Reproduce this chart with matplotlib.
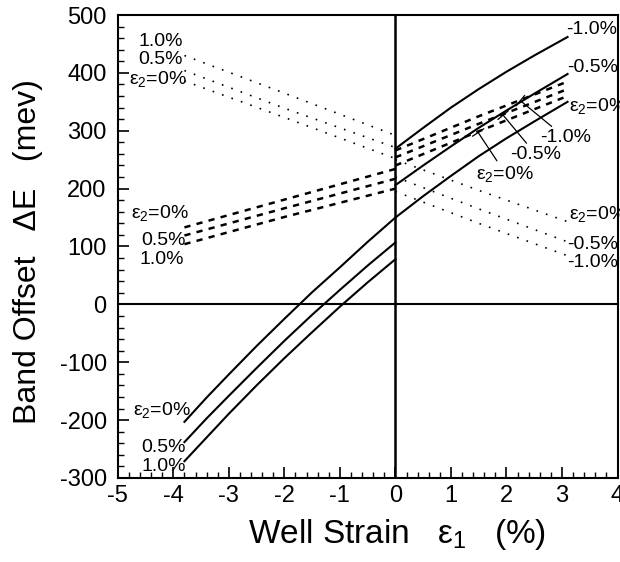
import numpy as np
import matplotlib
matplotlib.use('Agg')
import matplotlib.pyplot as plt
from matplotlib.ticker import MultipleLocator

plt.rcParams['font.family'] = ['Liberation Sans', 'DejaVu Sans']
plt.rcParams['mathtext.fontset'] = 'custom'
plt.rcParams['mathtext.rm'] = 'Liberation Sans'
plt.rcParams['mathtext.it'] = 'Liberation Sans'
plt.rcParams['axes.unicode_minus'] = False

# solid curves, eps1 < 0 (eps2 = 0, 0.5, 1.0 %)
x_sl = [-3.8, -3.4, -3.0, -2.5, -2.0, -1.5, -1.0, -0.5, 0.0]
sol_l_0 = [-203, -161, -121, -72, -25, 21, 64, 108, 150]
sol_l_05 = [-238, -197, -158, -110, -63, -18, 25, 67, 107]
sol_l_10 = [-271, -230, -189, -140, -93, -48, -4, 38, 78]

# solid curves, eps1 > 0 (eps2 = 0, -0.5, -1.0 %)
x_sr = [0.0, 0.5, 1.0, 1.5, 2.0, 2.5, 3.1]
sol_r_0 = [150, 187, 222, 256, 287, 316, 350]
sol_r_05 = [206, 240, 273, 305, 335, 364, 398]
sol_r_10 = [269, 305, 340, 372, 402, 430, 462]

# dashed curves
x_dl = [-3.8, -2.0, 0.0]
dash_l_0 = [133, 181, 234]
dash_l_05 = [119, 166, 217]
dash_l_10 = [104, 151, 200]
x_dr = [0.0, 1.5, 3.1]
dash_r_0 = [240, 299, 360]
dash_r_05 = [254, 312, 372]
dash_r_10 = [266, 325, 385]

# dotted curves
x_ol = [-3.8, -2.0, 0.0]
dot_l_0 = [386, 323, 252]
dot_l_05 = [404, 339, 271]
dot_l_10 = [430, 365, 292]
x_or = [0.0, 1.5, 3.1]
dot_r_0 = [250, 197, 143]
dot_r_05 = [220, 165, 108]
dot_r_10 = [195, 140, 84]

fig = plt.figure(figsize=(6.2, 5.62), dpi=100)
ax = fig.add_axes([0.190, 0.1495, 0.806, 0.8238])

lw = 1.5
for y in (sol_l_0, sol_l_05, sol_l_10):
    ax.plot(x_sl, y, color='black', lw=lw)
for y in (sol_r_0, sol_r_05, sol_r_10):
    ax.plot(x_sr, y, color='black', lw=lw)
for y in (dash_l_0, dash_l_05, dash_l_10):
    ax.plot(x_dl, y, color='black', lw=1.8, ls=(0, (2.5, 2.5)))
for y in (dash_r_0, dash_r_05, dash_r_10):
    ax.plot(x_dr, y, color='black', lw=1.8, ls=(0, (2.5, 2.5)))
for y in (dot_l_0, dot_l_05, dot_l_10):
    ax.plot(x_ol, y, color='black', lw=1.2, ls=(0, (1, 5)))
for y in (dot_r_0, dot_r_05, dot_r_10):
    ax.plot(x_or, y, color='black', lw=1.2, ls=(0, (1, 5)))

ax.axhline(0, color='black', lw=1.5)
ax.axvline(0, color='black', lw=1.8)

e2 = r'$\mathregular{ε_2}$=0%'
fs = 14
# left labels
kw = dict(fontsize=fs, ha='right', va='center')
ax.text(-3.83, 455, '1.0%', **kw)
ax.text(-3.83, 423, '0.5%', **kw)
ax.text(-3.75, 390, e2, **kw)
ax.text(-3.72, 158, e2, **kw)
ax.text(-3.78, 111, '0.5%', **kw)
ax.text(-3.8, 78, '1.0%', **kw)
ax.text(-3.68, -183, e2, **kw)
ax.text(-3.78, -247, '0.5%', **kw)
ax.text(-3.78, -281, '1.0%', **kw)
# right labels
kw = dict(fontsize=fs, ha='left', va='center')
ax.text(3.08, 475, '-1.0%', **kw)
ax.text(3.1, 410, '-0.5%', **kw)
ax.text(3.12, 343, e2, **kw)
ax.text(3.12, 157, e2, **kw)
ax.text(3.1, 104, '-0.5%', **kw)
ax.text(3.1, 72, '-1.0%', **kw)

# labels with leader lines to dashed curves
arr = dict(arrowstyle='-[, widthB=0.35, lengthB=0', color='black', lw=0.9,
           shrinkA=0, shrinkB=0)
ax.annotate(e2, xy=(1.49, 297), xytext=(1.98, 226), fontsize=fs,
            ha='center', va='center', arrowprops=arr)
ax.annotate('-0.5%', xy=(1.94, 327), xytext=(2.53, 259), fontsize=fs,
            ha='center', va='center', arrowprops=arr)
ax.annotate('-1.0%', xy=(2.25, 352), xytext=(3.06, 288), fontsize=fs,
            ha='center', va='center', arrowprops=arr)

ax.set_xlim(-5, 4)
ax.set_ylim(-300, 500)
ax.xaxis.set_major_locator(MultipleLocator(1))
ax.xaxis.set_minor_locator(MultipleLocator(0.2))
ax.yaxis.set_major_locator(MultipleLocator(100))
ax.yaxis.set_minor_locator(MultipleLocator(20))
ax.tick_params(which='both', direction='in', labelsize=17)
ax.tick_params(which='major', length=8, width=1.2)
ax.tick_params(which='minor', length=4, width=1.0)
ax.tick_params(axis='y', pad=8)
ax.tick_params(axis='x', pad=5)
for s in ax.spines.values():
    s.set_linewidth(1.5)

ax.set_xlabel(r'Well Strain   $\mathregular{ε_1}$   (%)', fontsize=24)
ax.set_ylabel('Band Offset   ΔE   (mev)', fontsize=23)
ax.xaxis.set_label_coords(0.558, -0.085)
ax.yaxis.set_label_coords(-0.15, 0.49)

fig.savefig('out.png', dpi=100)
